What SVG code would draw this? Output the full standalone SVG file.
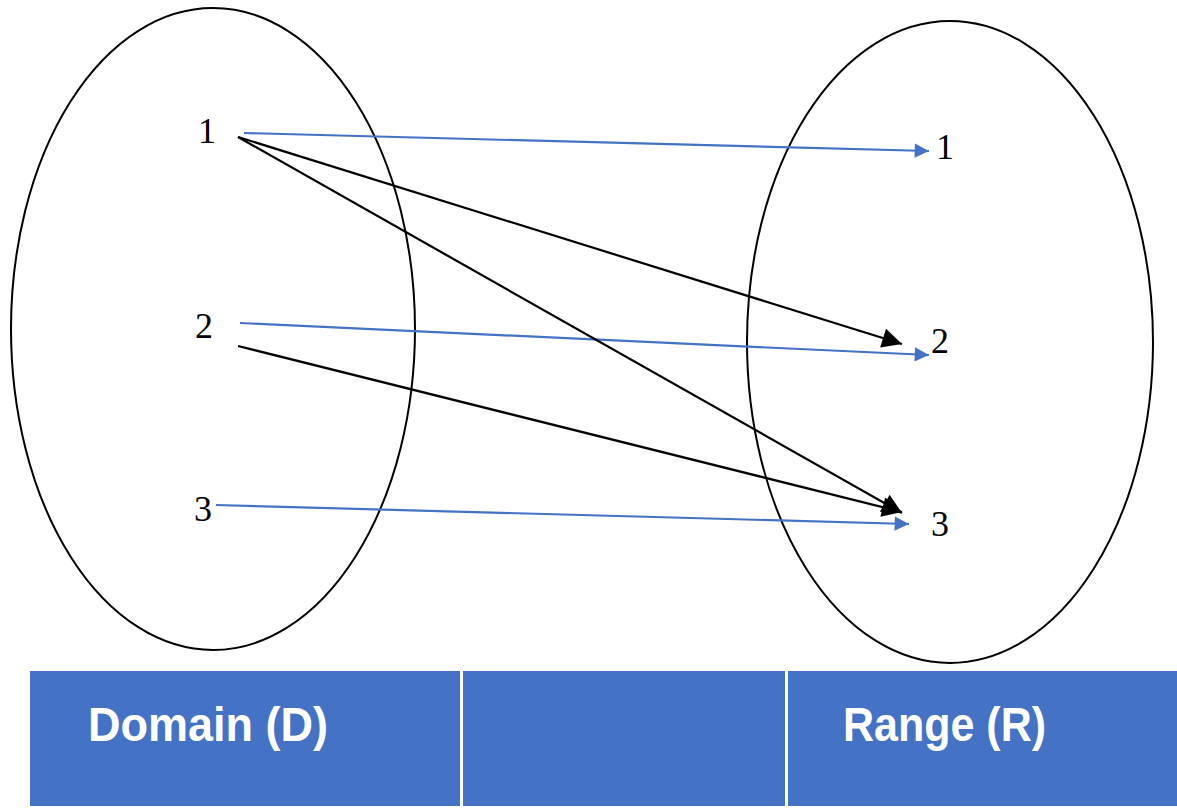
<svg xmlns="http://www.w3.org/2000/svg" width="1177" height="810" viewBox="0 0 1177 810">
<style>
.set{fill:none;stroke:#000;stroke-width:2}
.num{font-family:"Liberation Serif","Times New Roman",serif;font-size:36px;fill:#000}
.blue{stroke:#4472C4;stroke-width:2.2;fill:none}
.blk{stroke:#000;stroke-width:2.2;fill:none}
.cell{fill:#4472C4}
.hdr{font-family:"Liberation Sans",Arial,sans-serif;font-weight:bold;font-size:48px;fill:#fff}
</style>
<defs>
<marker id="ab" viewBox="0 0 10 10" refX="10" refY="5" markerWidth="7.5" markerHeight="6.5" markerUnits="strokeWidth" orient="auto">
<path d="M0,0 L10,5 L0,10 z" fill="#4472C4"/>
</marker>
<marker id="ak" viewBox="0 0 10 10" refX="10" refY="5" markerWidth="10" markerHeight="9" markerUnits="strokeWidth" orient="auto">
<path d="M0,0 L10,5 L0,10 z" fill="#000"/>
</marker>
</defs>
<g id="domain">
<ellipse class="set" cx="213" cy="329" rx="202" ry="321"/>
<text class="num" x="198" y="143">1</text>
<text class="num" x="195" y="338">2</text>
<text class="num" x="194" y="521">3</text>
</g>
<g id="range">
<ellipse class="set" cx="950" cy="342" rx="203" ry="321"/>
<text class="num" x="936" y="159">1</text>
<text class="num" x="931" y="353">2</text>
<text class="num" x="931" y="536">3</text>
</g>
<g id="connectors">
<line class="blue" x1="244" y1="133" x2="929" y2="151" marker-end="url(#ab)"/>
<line class="blue" x1="240" y1="323" x2="929" y2="355" marker-end="url(#ab)"/>
<line class="blue" x1="216" y1="505" x2="909" y2="524" marker-end="url(#ab)"/>
<line class="blk" x1="238" y1="137" x2="902" y2="344" marker-end="url(#ak)"/>
<line class="blk" x1="238" y1="137" x2="902" y2="513" marker-end="url(#ak)"/>
<line class="blk" x1="238" y1="346" x2="902" y2="512" marker-end="url(#ak)"/>
</g>
<g id="table">
<rect class="cell" x="30" y="671" width="430" height="135"/>
<rect class="cell" x="463" y="671" width="322" height="135"/>
<rect class="cell" x="788" y="671" width="389" height="135"/>
<text class="hdr" x="88" y="741" textLength="240" lengthAdjust="spacingAndGlyphs">Domain (D)</text>
<text class="hdr" x="843" y="741" textLength="203" lengthAdjust="spacingAndGlyphs">Range (R)</text>
</g>
</svg>
